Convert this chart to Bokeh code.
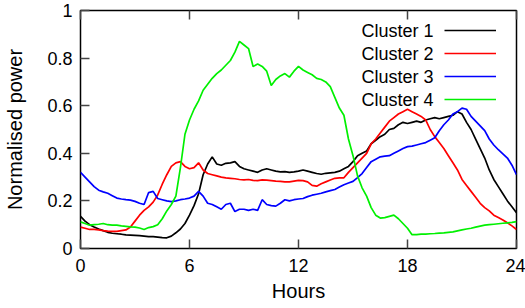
from bokeh.plotting import figure
from bokeh.models import Range1d, FixedTicker, LinearAxis, Legend, LegendItem, Label, Title
from bokeh.embed import file_html
from bokeh.resources import INLINE

# time of day (hours), sampled every quarter hour
hours = [i * 0.25 for i in range(97)]

cluster1 = [0.135, 0.115, 0.100, 0.090, 0.082, 0.075, 0.068, 0.064, 0.062, 0.060,
            0.057, 0.056, 0.055, 0.054, 0.052, 0.050, 0.050, 0.048, 0.046, 0.045,
            0.052, 0.066, 0.082, 0.105, 0.140, 0.180, 0.230, 0.310, 0.355, 0.385,
            0.355, 0.350, 0.358, 0.360, 0.365, 0.345, 0.335, 0.330, 0.325, 0.320,
            0.330, 0.335, 0.330, 0.325, 0.322, 0.323, 0.320, 0.322, 0.325, 0.330,
            0.325, 0.320, 0.315, 0.312, 0.316, 0.318, 0.320, 0.325, 0.335, 0.345,
            0.365, 0.390, 0.400, 0.410, 0.440, 0.455, 0.470, 0.480, 0.500, 0.505,
            0.520, 0.530, 0.525, 0.530, 0.535, 0.530, 0.540, 0.545, 0.550, 0.545,
            0.550, 0.555, 0.560, 0.575, 0.565, 0.530, 0.500, 0.460, 0.420, 0.380,
            0.330, 0.290, 0.260, 0.230, 0.200, 0.175, 0.150]

cluster2 = [0.090, 0.085, 0.080, 0.080, 0.078, 0.075, 0.073, 0.072, 0.072, 0.075,
            0.078, 0.090, 0.115, 0.140, 0.160, 0.175, 0.195, 0.225, 0.270, 0.310,
            0.345, 0.360, 0.365, 0.345, 0.335, 0.340, 0.360, 0.330, 0.315, 0.310,
            0.305, 0.300, 0.297, 0.295, 0.293, 0.290, 0.288, 0.290, 0.286, 0.285,
            0.288, 0.287, 0.285, 0.283, 0.282, 0.280, 0.280, 0.283, 0.286, 0.285,
            0.280, 0.265, 0.262, 0.272, 0.280, 0.288, 0.295, 0.297, 0.297, 0.320,
            0.340, 0.360, 0.380, 0.400, 0.440, 0.460, 0.485, 0.510, 0.535, 0.550,
            0.565, 0.575, 0.585, 0.575, 0.565, 0.555, 0.540, 0.500, 0.470, 0.445,
            0.420, 0.390, 0.360, 0.330, 0.290, 0.265, 0.240, 0.215, 0.190, 0.172,
            0.158, 0.140, 0.130, 0.120, 0.108, 0.095, 0.080]

cluster3 = [0.320, 0.300, 0.280, 0.260, 0.245, 0.238, 0.232, 0.222, 0.212, 0.208,
            0.205, 0.203, 0.198, 0.190, 0.185, 0.235, 0.240, 0.210, 0.205, 0.200,
            0.197, 0.200, 0.205, 0.208, 0.212, 0.220, 0.240, 0.220, 0.190, 0.185,
            0.175, 0.165, 0.185, 0.190, 0.155, 0.165, 0.165, 0.160, 0.165, 0.160,
            0.205, 0.185, 0.180, 0.178, 0.190, 0.205, 0.200, 0.205, 0.208, 0.210,
            0.218, 0.224, 0.228, 0.232, 0.238, 0.243, 0.248, 0.258, 0.268, 0.275,
            0.282, 0.298, 0.315, 0.340, 0.365, 0.375, 0.385, 0.388, 0.390, 0.400,
            0.410, 0.420, 0.428, 0.430, 0.435, 0.440, 0.445, 0.455, 0.465, 0.495,
            0.520, 0.540, 0.565, 0.575, 0.590, 0.585, 0.555, 0.535, 0.515, 0.495,
            0.460, 0.435, 0.415, 0.398, 0.380, 0.350, 0.310]

cluster4 = [0.112, 0.105, 0.098, 0.100, 0.102, 0.105, 0.100, 0.098, 0.098, 0.095,
            0.093, 0.091, 0.090, 0.086, 0.080, 0.088, 0.092, 0.100, 0.125, 0.158,
            0.185, 0.220, 0.340, 0.480, 0.540, 0.585, 0.620, 0.665, 0.690, 0.715,
            0.735, 0.750, 0.770, 0.790, 0.825, 0.870, 0.855, 0.840, 0.765, 0.775,
            0.765, 0.745, 0.685, 0.710, 0.725, 0.735, 0.720, 0.745, 0.765, 0.750,
            0.740, 0.730, 0.715, 0.710, 0.700, 0.680, 0.635, 0.590, 0.560, 0.460,
            0.390, 0.305, 0.255, 0.220, 0.172, 0.140, 0.128, 0.130, 0.135, 0.140,
            0.125, 0.105, 0.085, 0.058, 0.058, 0.060, 0.060, 0.062, 0.063, 0.065,
            0.066, 0.068, 0.070, 0.074, 0.078, 0.082, 0.085, 0.090, 0.094, 0.098,
            0.100, 0.102, 0.104, 0.106, 0.108, 0.110, 0.113]

series_names = ["Cluster 1", "Cluster 2", "Cluster 3", "Cluster 4"]
series_colors = ["#000000", "#ff0000", "#0000ff", "#00f000"]
series_values = [cluster1, cluster2, cluster3, cluster4]

x_ticks = [0, 6, 12, 18, 24]
y_ticks = [0, 0.2, 0.4, 0.6, 0.8, 1]
y_tick_labels = ["0", "0.2", "0.4", "0.6", "0.8", "1"]
x_title = "Hours"
y_title = "Normalised power"

FONT = "Liberation Sans"

# layout (pixels inside the figure)
FIG_W, FIG_H = 525, 308
B_LEFT, B_RIGHT, B_TOP, B_BOTTOM = 80, 9, 10, 60
FRAME_W = FIG_W - B_LEFT - B_RIGHT
FRAME_H = FIG_H - B_TOP - B_BOTTOM
X0, X1, Y0, Y1 = 0, 24, 0, 1


def px_to_x(px):
    return X0 + (px - B_LEFT) / FRAME_W * (X1 - X0)


def py_to_y(py):
    return Y1 - (py - B_TOP) / FRAME_H * (Y1 - Y0)


p = figure(width=FIG_W, height=FIG_H, output_backend="svg", toolbar_location=None,
           x_range=Range1d(X0, X1), y_range=Range1d(Y0, Y1),
           min_border_left=B_LEFT, min_border_right=B_RIGHT,
           min_border_top=B_TOP, min_border_bottom=B_BOTTOM)
p.background_fill_color = "white"
p.border_fill_color = "white"
p.grid.visible = False
p.outline_line_color = "black"
p.outline_line_width = 1.5

x_axis = p.xaxis[0]
y_axis = p.yaxis[0]
x_axis.ticker = FixedTicker(ticks=x_ticks)
y_axis.ticker = FixedTicker(ticks=y_ticks)
y_axis.major_label_overrides = dict(zip(y_ticks, y_tick_labels))
y_axis.axis_label = y_title

top_axis = LinearAxis(ticker=FixedTicker(ticks=x_ticks))
p.add_layout(top_axis, "above")

for ax in [x_axis, y_axis, top_axis]:
    ax.major_tick_in = 9
    ax.major_tick_out = 0
    ax.minor_tick_line_color = None
    ax.axis_line_color = None
    ax.major_tick_line_color = "#444444"
    ax.major_tick_line_width = 1.5
    ax.major_label_text_font = FONT
    ax.major_label_text_color = "black"
    ax.major_label_text_font_size = "18px"
    ax.axis_label_text_font = FONT
    ax.axis_label_text_font_style = "normal"
    ax.axis_label_text_color = "black"
    ax.axis_label_text_font_size = "20px"

top_axis.major_label_overrides = {t: "" for t in x_ticks}
top_axis.major_label_text_font_size = "1px"
top_axis.major_label_text_color = None
top_axis.major_label_standoff = 0

x_axis.major_label_standoff = 10
y_axis.major_label_standoff = 8
y_axis.axis_label_standoff = 18

# x axis title, below the tick labels
p.add_layout(Title(text=x_title, align="center", text_font=FONT,
                   text_font_size="20px", text_font_style="normal",
                   text_color="black", standoff=7), "below")

items = []
for name, color, vals in zip(series_names, series_colors, series_values):
    r = p.line(hours, vals, line_color=color, line_width=1.7)
    items.append(LegendItem(label=name, renderers=[r]))

# legend: sample lines drawn by Legend, names drawn as right-aligned labels
ROW0, PITCH, GLYPH_LEFT, GLYPH_W, TEXT_RIGHT = 30, 23, 444, 52, 433
ITEM_H, SPACING = 22, PITCH - 22
LEG_H = 4 * ITEM_H + 3 * SPACING
legend = Legend(items=items,
                location=(GLYPH_LEFT - B_LEFT,
                          FRAME_H - (ROW0 - ITEM_H / 2 - B_TOP) - LEG_H),
                label_text_alpha=0, label_text_font_size="1px",
                label_standoff=0, label_width=0,
                glyph_width=GLYPH_W, glyph_height=ITEM_H, label_height=ITEM_H,
                spacing=SPACING, padding=0, margin=0,
                border_line_color=None, background_fill_alpha=0)
p.add_layout(legend)

for i, name in enumerate(series_names):
    p.add_layout(Label(x=px_to_x(TEXT_RIGHT), y=py_to_y(ROW0 + i * PITCH),
                       text=name, text_align="right", text_baseline="middle",
                       text_font=FONT, text_font_size="18px", text_color="black"))

open("out.html", "w").write(file_html(p, INLINE))
